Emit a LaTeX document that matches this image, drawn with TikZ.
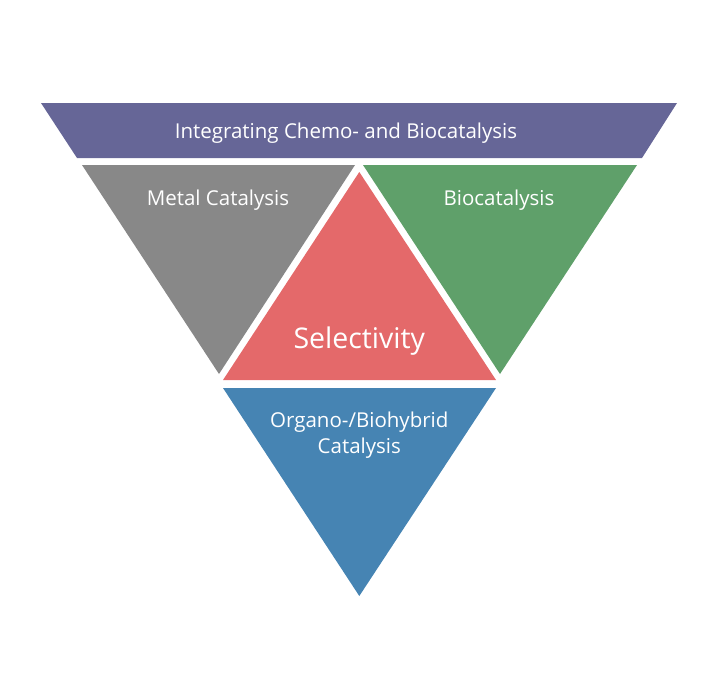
\documentclass[tikz,border=0pt]{standalone}
\usepackage{fontspec}
\setmainfont{Open Sans}
\usepackage{tikz}
\usetikzlibrary{
    calc,
    positioning
}
\definecolor{bandpurple}{RGB}{102,102,151}
\definecolor{metalgray}{RGB}{136,136,136}
\definecolor{biogreen}{RGB}{95,160,106}
\definecolor{selectred}{RGB}{228,105,106}
\definecolor{hybridblue}{RGB}{70,132,179}
\tikzset{
    panel/.style={draw=none},
    caption/.style={
        text=white,
        font=\fontsize{20.5}{26}\selectfont,
        align=center
    },
    bigcaption/.style={
        caption,
        font=\fontsize{28.5}{34}\selectfont
    }
}

\begin{document}
\begin{tikzpicture}[x=1pt, y=-1pt]
\useasboundingbox (0, 0) rectangle (719, 681);

% Top band
\fill[panel, bandpurple] (41, 103) -- (677, 103) -- (642, 158) -- (77, 158) -- cycle;
\node[caption] (band) at (346, 133) {Integrating Chemo- and Biocatalysis};

% Metal catalysis (left)
\fill[panel, metalgray] (82, 165) -- (355, 165) -- (219, 374) -- cycle;
\node[caption] (metal) at (218, 200) {Metal Catalysis};

% Biocatalysis (right)
\fill[panel, biogreen] (363, 165) -- (637, 165) -- (500, 374) -- cycle;
\node[caption] (bio) at (499, 200) {Biocatalysis};

% Selectivity (centre)
\fill[panel, selectred] (359.3, 172) -- (496, 380) -- (223, 380) -- cycle;
\node[bigcaption] (select) at (359.3, 341) {Selectivity};

% Organo-/Biohybrid (bottom)
\fill[panel, hybridblue] (223, 388) -- (496, 388) -- (359.3, 596) -- cycle;
\node[caption] (hybrid) at (359.3, 435) {Organo-/Biohybrid\\Catalysis};

\end{tikzpicture}
\end{document}
